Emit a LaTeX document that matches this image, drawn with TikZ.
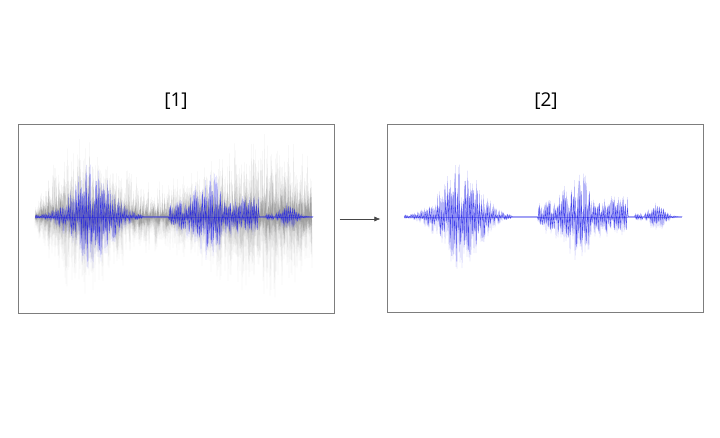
\documentclass[tikz,border=0pt]{standalone}
\usepackage{fontspec}
\setmainfont{Open Sans}
\usetikzlibrary{arrows.meta}
\definecolor{wblue}{RGB}{25,25,230}
\definecolor{boxgray}{RGB}{125,125,125}
\definecolor{arrowgray}{RGB}{70,70,70}
\tikzset{
  declare function={
    ga(\q)=exp(-min(\q*\q,9));
    benv(\t)=(\t<108)*(1.5+52*ga((\t-57)/26.5))
      + and(\t>=134,\t<186)*(17+28*ga((\t-175)/17))
      + and(\t>=186,\t<224)*21
      + and(\t>=231,\t<239)*4.5
      + and(\t>=241,\t<274)*(15*ga((\t-253)/11));
    genv(\t)=min(1,0.3+\t/15)*(28+52*ga((\t-50)/40)+55*ga((\t-230)/70));
    osc(\t)=1-2*mod(round(2*\t),2);
    osd(\t)=1-2*mod(round(\t),2);
  },
  panel/.style={draw=boxgray, line width=0.8pt, minimum width=316pt, minimum height=188pt, inner sep=0pt},
  tag/.style={font=\fontsize{19}{22}\selectfont, inner sep=0pt},
  lightwave/.style={wblue, opacity=0.32, line width=0.4pt, line join=round},
  darkwave/.style={wblue, opacity=0.75, line width=0.35pt, line join=round},
  noisewave/.style={black, line width=0.35pt, line join=round},
  flow/.style={arrowgray, line width=0.6pt, -{Latex[length=6pt,width=5pt]}}
}
\begin{document}
\begin{tikzpicture}[x=1pt,y=-1pt]
\useasboundingbox (0,0) rectangle (720,438);
\node[panel] (b1) at (176.3,218.9) {};
\node[panel] (b2) at (545.3,218.2) {};
\node[tag] (t1) at (176,101) {[1]};
\node[tag] (t2) at (546,101) {[2]};
% gray noise in panel 1
\pgfmathsetseed{11}
\foreach \a/\o in {1/0.08,0.75/0.09,0.5/0.12,0.3/0.15}{
  \draw[noisewave, opacity=\o] plot[domain=0:277, samples=555, variable=\t] ({35+\t},{216.7+\a*genv(\t)*(0.1+0.9*rnd)*osc(\t)});
}
% blue waveforms
\foreach \xo/\nm in {35/w1,404/w2}{
  \pgfmathsetseed{7}
  \draw[wblue, opacity=0.4, line width=0.3pt] (\xo,216.7) -- (\xo+278,216.7);
  \draw[lightwave] plot[domain=0:278, samples=557, variable=\t] ({\xo+\t},{216.7+benv(\t)*(0.1+0.9*rnd)*osc(\t)});
  \draw[darkwave] plot[domain=0:278, samples=279, variable=\t] ({\xo+\t+0.25},{216.7+0.7*benv(\t)*(0.1+0.9*rnd)*osd(\t)});
}
\draw[flow] ([xshift=5pt]b1.east |- 0,219) -- ([xshift=-6.5pt]b2.west |- 0,219);
\end{tikzpicture}
\end{document}
